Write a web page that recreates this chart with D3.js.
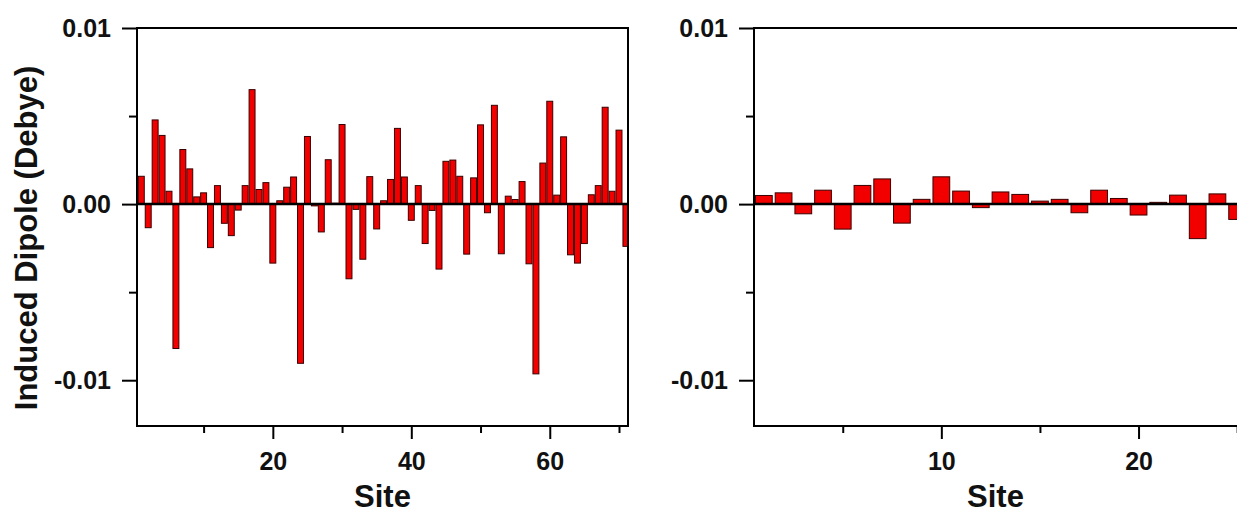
<!DOCTYPE html>
<html>
<head>
<meta charset="utf-8">
<script src="https://cdn.jsdelivr.net/npm/d3@7"></script>
<style>
  body { margin: 0; background: #fff; }
  text { font-family: "Liberation Sans", Arial, sans-serif; font-weight: bold; }
</style>
</head>
<body>
<script>
// induced dipole per site, left panel (sites 1..71)
var leftDipole = [
  0.00158, -0.00134, 0.00478, 0.0039, 0.00073, -0.0082, 0.0031, 0.002, 0.00041, 0.00064,
  -0.00247, 0.00105, -0.00109, -0.00179, -0.00034, 0.00105, 0.0065, 0.00083, 0.00122, -0.00335,
  0.00019, 0.00096, 0.00154, -0.00904, 0.00384, -0.0001, -0.00158, 0.00252, 0.00005, 0.00452,
  -0.00424, -0.0003, -0.00313, 0.00156, -0.00141, 0.00019, 0.0014, 0.0043, 0.00154, -0.00092,
  0.00105, -0.00224, -0.00036, -0.00369, 0.00243, 0.0025, 0.00158, -0.00284, 0.00149, 0.0045,
  -0.00049, 0.00561, -0.00282, 0.00045, 0.00026, 0.00128, -0.00339, -0.00964, 0.00233, 0.00584,
  0.00051, 0.00382, -0.00288, -0.00335, -0.00224, 0.00053, 0.00105, 0.0055, 0.00073, 0.0042,
  -0.0024
];
// right panel (sites 1..25)
var rightDipole = [
  0.00049, 0.00064, -0.00055, 0.00079, -0.00142, 0.00106, 0.00143, -0.00108, 0.00027, 0.00155,
  0.00074, -0.0002, 0.00069, 0.00055, 0.00017, 0.00027, -0.00049, 0.00079, 0.00032, -0.00062,
  0.0001, 0.00051, -0.00196, 0.00058, -0.00087
];
var yMajor = [-0.01, 0, 0.01], yMinor = [-0.005, 0.005];
var leftXMajor = [20, 40, 60], leftXMinor = [10, 30, 50, 70];
var rightXMajor = [10, 20], rightXMinor = [5, 15, 25];

var width = 1237, height = 514;
var plotTop = 28, plotBottom = 426;

var svg = d3.select("body").append("svg")
    .attr("width", width)
    .attr("height", height);

var y = d3.scaleLinear().domain([-0.0126, 0.01]).range([plotBottom, plotTop]);
var fmt = function(d) { return d3.format(".2f")(d).replace("\u2212", "-"); };

function panel(id, values, xDomain, xRange, xMajor, xMinor, barFrac) {
  var x = d3.scaleLinear().domain(xDomain).range(xRange);
  var step = x(2) - x(1);
  var bw = step * barFrac;
  var g = svg.append("g");

  g.append("clipPath").attr("id", id)
    .append("rect")
    .attr("x", xRange[0]).attr("y", plotTop)
    .attr("width", xRange[1] - xRange[0]).attr("height", plotBottom - plotTop);

  // bars
  g.append("g").attr("clip-path", "url(#" + id + ")")
    .selectAll("rect").data(values).enter().append("rect")
    .attr("x", function(d, i) { return x(i + 1) - bw / 2; })
    .attr("y", function(d) { return y(Math.max(0, d)); })
    .attr("width", bw)
    .attr("height", function(d) { return Math.abs(y(d) - y(0)); })
    .attr("fill", "#f20000")
    .attr("stroke", "#3a0000")
    .attr("stroke-width", 1);

  // zero line
  g.append("line")
    .attr("x1", xRange[0]).attr("x2", Math.min(xRange[1], width))
    .attr("y1", y(0)).attr("y2", y(0))
    .attr("stroke", "#000").attr("stroke-width", 2.5);

  // y axis
  var ya = g.append("g").attr("transform", "translate(" + xRange[0] + ",0)")
    .call(d3.axisLeft(y).tickValues(yMajor).tickSize(15).tickPadding(11).tickFormat(fmt));
  var ym = g.append("g").attr("transform", "translate(" + xRange[0] + ",0)")
    .call(d3.axisLeft(y).tickValues(yMinor).tickSize(8).tickFormat(""));

  // x axis
  var xa = g.append("g").attr("transform", "translate(0," + plotBottom + ")")
    .call(d3.axisBottom(x).tickValues(xMajor).tickSize(13).tickPadding(13).tickFormat(d3.format("d")));
  var xm = g.append("g").attr("transform", "translate(0," + plotBottom + ")")
    .call(d3.axisBottom(x).tickValues(xMinor).tickSize(7).tickFormat(""));

  [ya, ym, xa, xm].forEach(function(a) {
    a.select(".domain").remove();
    a.selectAll("line").attr("stroke", "#000").attr("stroke-width", 2);
    a.selectAll("text").attr("font-size", 25).attr("fill", "#111")
      .style("font-family", "'Liberation Sans', Arial, sans-serif").style("font-weight", "bold");
  });

  // frame
  g.append("rect")
    .attr("x", xRange[0]).attr("y", plotTop)
    .attr("width", xRange[1] - xRange[0]).attr("height", plotBottom - plotTop)
    .attr("fill", "none").attr("stroke", "#000").attr("stroke-width", 2);

  // x title
  g.append("text")
    .attr("x", (xRange[0] + Math.min(xRange[1], width)) / 2)
    .attr("y", 507)
    .attr("text-anchor", "middle")
    .attr("font-size", 31)
    .attr("fill", "#111")
    .text("Site");
  return x;
}

panel("clipL", leftDipole, [0.38, 71.3], [137, 628], leftXMajor, leftXMinor, 0.86);
panel("clipR", rightDipole, [0.5, 25.5], [754, 1247], rightXMajor, rightXMinor, 0.85);

// y title
svg.append("text")
  .attr("transform", "translate(37,238) rotate(-90)")
  .attr("text-anchor", "middle")
  .attr("font-size", 31)
  .attr("fill", "#111")
  .text("Induced Dipole (Debye)");
</script>
</body>
</html>
